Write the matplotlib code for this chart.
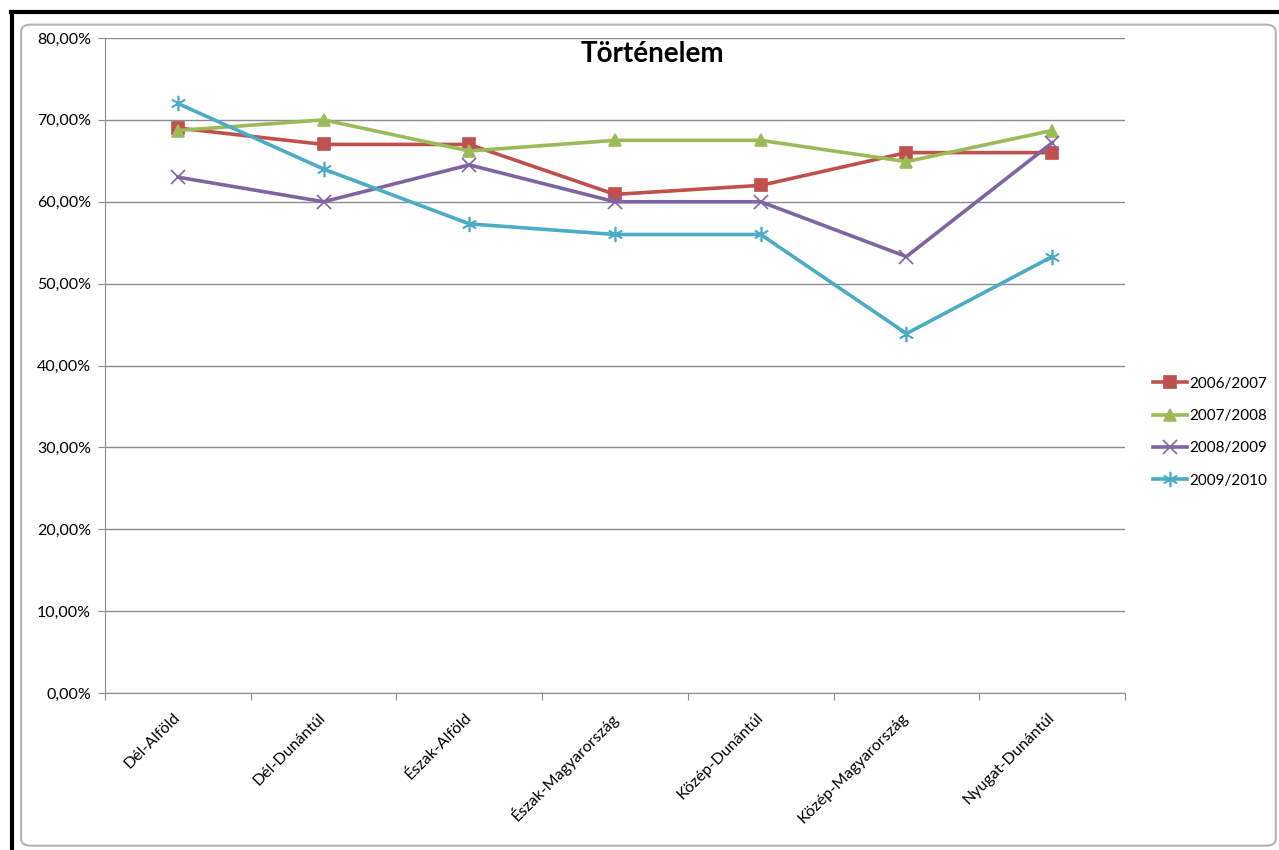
import numpy as np
import matplotlib
matplotlib.use("Agg")
import matplotlib.pyplot as plt
from matplotlib.ticker import FuncFormatter, MultipleLocator, FixedLocator
from matplotlib.patches import FancyBboxPatch
from matplotlib.lines import Line2D

plt.rcParams['font.family'] = ['Lato', 'DejaVu Sans']

# data (percent)
regions = ['Dél-Alföld', 'Dél-Dunántúl', 'Észak-Alföld', 'Észak-Magyarország',
           'Közép-Dunántúl', 'Közép-Magyarország', 'Nyugat-Dunántúl']
years = ['2006/2007', '2007/2008', '2008/2009', '2009/2010']
s2006 = [69.0, 67.0, 67.0, 60.9, 62.0, 66.0, 66.0]
s2007 = [68.7, 70.0, 66.2, 67.5, 67.5, 64.9, 68.7]
s2008 = [63.0, 60.0, 64.5, 60.0, 60.0, 53.3, 67.2]
s2009 = [72.0, 64.0, 57.3, 56.0, 56.0, 43.9, 53.3]

colors = ['#C0504D', '#9BBB59', '#8064A2', '#4BACC6']
markers = ['s', '^', 'x', (6, 2, 0)]
msizes = [9, 9, 10, 11]

fig = plt.figure(figsize=(12.79, 8.5), dpi=100)
ax = fig.add_axes([0.0821, 0.1847, 0.7975, 0.7706])

x = np.arange(len(regions))
for vals, lab, col, mk, ms in zip([s2006, s2007, s2008, s2009], years, colors, markers, msizes):
    ax.plot(x, vals, color=col, lw=2.6, marker=mk, markersize=ms,
            markeredgewidth=1.2, label=lab)

ax.set_ylim(0, 80)
ax.set_xlim(-0.5, len(regions) - 0.5)
ax.yaxis.set_major_locator(MultipleLocator(10))
ax.yaxis.set_major_formatter(FuncFormatter(lambda v, p: f'{v:.2f}%'.replace('.', ',')))
ax.grid(axis='y', color='#8c8c8c', lw=1)
ax.set_axisbelow(True)

# category boundaries as major ticks, labels on minor ticks
ax.xaxis.set_major_locator(FixedLocator(np.arange(-0.5, len(regions), 1.0)))
ax.xaxis.set_major_formatter(FuncFormatter(lambda v, p: ''))
ax.xaxis.set_minor_locator(FixedLocator(x))
ax.set_xticklabels(regions, minor=True, rotation=45, ha='right', va='center',
                   rotation_mode='anchor', fontsize=11.5)
ax.tick_params(axis='x', which='major', length=5, color='#8c8c8c')
ax.tick_params(axis='x', which='minor', length=0, pad=16)
ax.tick_params(axis='y', length=5, color='#8c8c8c', labelsize=11.5, pad=5)

for side in ('top', 'right'):
    ax.spines[side].set_visible(False)
for side in ('left', 'bottom'):
    ax.spines[side].set_color('#8c8c8c')

# title is centred on the whole chart box, not the plot area
fig.text(0.51, 0.936, 'Történelem', fontsize=20, fontweight='bold',
         ha='center', va='center')

ax.legend(loc='center left', bbox_to_anchor=(1.014, 0.398), frameon=False,
          fontsize=11, handlelength=2.2, handletextpad=0.15, labelspacing=1.2)

# screenshot frame: dark window edge and the rounded chart border
fig.add_artist(Line2D([0.0085, 1.0], [0.9855, 0.9855], color='black', lw=3,
                      transform=fig.transFigure))
fig.add_artist(Line2D([0.0092, 0.0092], [0.0, 0.9855], color='black', lw=3,
                      transform=fig.transFigure))
fig.add_artist(FancyBboxPatch((0.0165, 0.005), 0.981, 0.966,
                              boxstyle='round,pad=0,rounding_size=0.008',
                              transform=fig.transFigure, fill=False,
                              edgecolor='#b4b4b4', lw=1.5))

fig.savefig('out.png', dpi=100)
